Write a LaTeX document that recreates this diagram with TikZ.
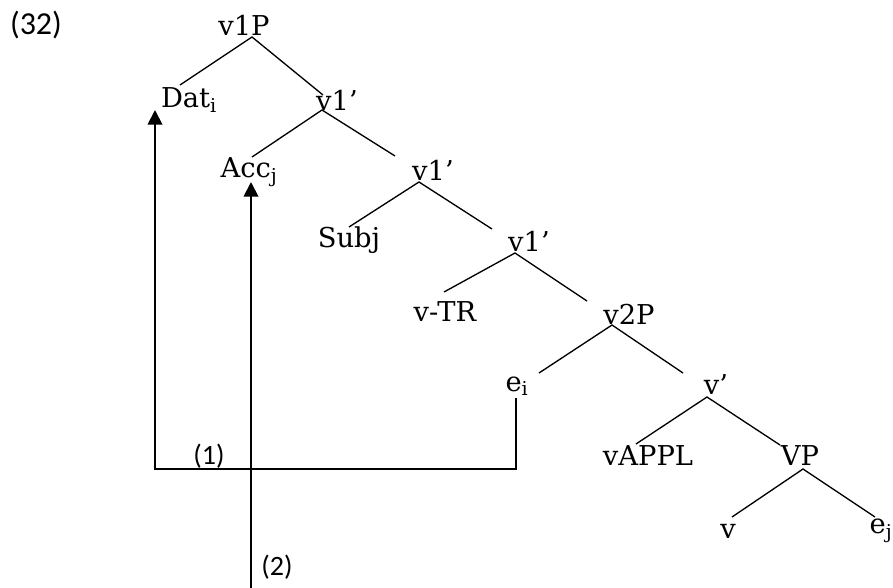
\documentclass[tikz,border=0pt]{standalone}
\usepackage{fontspec}
\usetikzlibrary{arrows.meta}
\newfontfamily\treefont{DejaVu Serif}
\newfontfamily\numfont{Carlito}
\tikzset{
  lab/.style={font=\treefont\fontsize{20.5}{24}\selectfont, inner sep=0pt},
  num/.style={font=\numfont\fontsize{21}{25}\selectfont, inner sep=0pt},
  branch/.style={line width=1pt},
  move/.style={line width=1.4pt, -{Triangle[width=11pt,length=11pt]}},
}
\begin{document}
\begin{tikzpicture}[x=0.75pt,y=-0.75pt]
\useasboundingbox (0,0) rectangle (893,588);
% labels
\node[num, font=\numfont\fontsize{24}{28}\selectfont] (n32) at (36,25) {(32)};
\node[lab] (v1P) at (244,25) {v1P};
\node[lab] (Dat) at (189,100) {Dat\textsubscript{i}};
\node[lab] (v1a) at (337,100) {v1’};
\node[lab] (Acc) at (249,172) {Acc\textsubscript{j}};
\node[lab] (v1b) at (433,170) {v1’};
\node[lab] (Subj) at (349,240) {Subj};
\node[lab] (v1c) at (529,241) {v1’};
\node[lab] (vTR) at (445,312) {v-TR};
\node[lab] (v2P) at (629,314) {v2P};
\node[lab] (ei) at (517,386) {e\textsubscript{i}};
\node[lab] (vbar) at (716,385) {v’};
\node[lab] (vAPPL) at (648,456) {vAPPL};
\node[lab] (VP) at (800,456) {VP};
\node[lab] (v) at (728,531) {v};
\node[lab] (ej) at (881,531) {e\textsubscript{j}};
\node[num] (l1) at (209,456) {(1)};
\node[num] (l2) at (277,567) {(2)};
% branches
\draw[branch] ([shift={(-9,-15)}]Dat.center) -- ([shift={(8,12)}]v1P.center) -- ([shift={(-14,-5)}]v1a.center);
\draw[branch] ([shift={(3,-15)}]Acc.center) -- ([shift={(-15,10)}]v1a.center) -- ([shift={(-38,-14)}]v1b.center);
\draw[branch] ([shift={(0,-13)}]Subj.center) -- ([shift={(-14,12)}]v1b.center) -- ([shift={(-37,-12)}]v1c.center);
\draw[branch] ([shift={(-1,-20)}]vTR.center) -- ([shift={(-14,12)}]v1c.center) -- ([shift={(-42,-13)}]v2P.center);
\draw[branch] ([shift={(22,-13)}]ei.center) -- ([shift={(-17,11)}]v2P.center) -- ([shift={(-33,-12)}]vbar.center);
\draw[branch] ([shift={(-12,-12)}]vAPPL.center) -- ([shift={(-9,12)}]vbar.center) -- ([shift={(-20,-11)}]VP.center);
\draw[branch] ([shift={(4,-14)}]v.center) -- ([shift={(3,13)}]VP.center) -- ([shift={(-6,-14)}]ej.center);
% movement arrows
\coordinate (c1) at (155,469);
\coordinate (c2) at (516,469);
\coordinate (bot) at (251,588);
\draw[move] ([shift={(-1,12)}]ei.center) -- (c2) -- (c1) -- ([shift={(-34,10)}]Dat.center);
\draw[move] (bot) -- ([shift={(2,10)}]Acc.center);
\end{tikzpicture}
\end{document}
